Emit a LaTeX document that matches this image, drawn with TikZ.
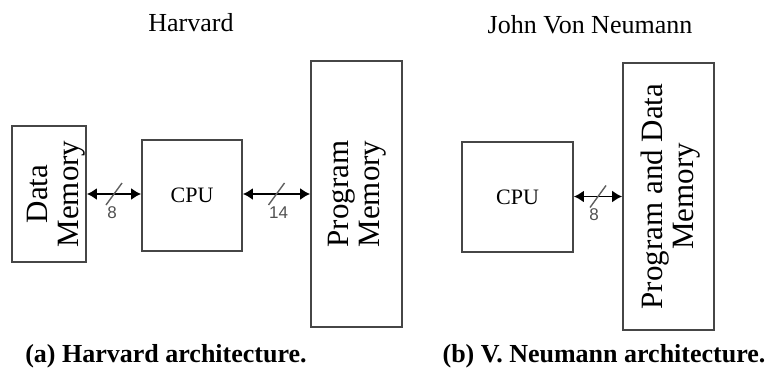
\documentclass[tikz,border=0pt]{standalone}
\usepackage{fontspec}
\setmainfont{Liberation Serif}
\newfontfamily\digitfont{Liberation Sans}
\usepackage{xcolor}
\usepackage{tikz}
\usetikzlibrary{arrows.meta,calc}
\definecolor{boxline}{RGB}{70,70,70}
\definecolor{markline}{RGB}{95,95,95}
\definecolor{digitcolor}{RGB}{80,80,80}

\begin{document}
\begin{tikzpicture}[x=0.5pt,y=-0.5pt,>={Latex[length=5pt,width=6pt]}]
\tikzset{unit/.style={draw=boxline,line width=0.9pt,inner sep=0pt},
  memtext/.style={rotate=90,align=center,inner sep=0pt,font=\fontsize{15.5}{15.5}\selectfont},
  cputext/.style={font=\fontsize{11}{13}\selectfont},
  bus/.style={<->,line width=0.9pt,black},
  busmark/.style={draw=markline,line width=0.7pt},
  width/.style={font=\digitfont\fontsize{8.5}{10}\selectfont,text=digitcolor,inner sep=0pt},
  heading/.style={font=\fontsize{13}{15}\selectfont},
  caption/.style={font=\bfseries\fontsize{13}{15}\selectfont}}
\useasboundingbox (0,0) rectangle (769,374);

\node[heading] (tha) at (191,23) {Harvard};
\node[heading] (thb) at (590,25) {John Von Neumann};

\node[unit,minimum width=37pt,minimum height=68pt,
      label={[memtext,yshift=-3.5pt]center:Data\\Memory}] (dmem) at (49,194) {};
\node[unit,cputext,minimum width=50pt,minimum height=55.5pt] (cpua) at (192,195.5) {CPU};
\node[unit,minimum width=45.5pt,minimum height=133pt,
      label={[memtext,yshift=-0.5pt]center:Program\\Memory}] (pmem) at (356.5,194) {};

\node[unit,cputext,minimum width=55.5pt,minimum height=55pt] (cpub) at (517.5,197) {CPU};
\node[unit,minimum width=45.5pt,minimum height=133.5pt,
      label={[memtext,yshift=-1pt]center:Program and Data\\Memory}] (pdmem) at (668.5,196.5) {};

\draw[bus] (dmem.east) -- coordinate[midway] (ma) (dmem.east -| cpua.west);
\draw[bus] (cpua.east |- pmem.west) -- coordinate[midway] (mb) (pmem.west);
\draw[bus] (cpub.east |- pdmem.west) -- coordinate[midway] (mc) (pdmem.west);

\draw[busmark] ([shift={(-8,11)}]ma) -- ([shift={(8,-11)}]ma);
\draw[busmark] ([shift={(-8,11)}]mb) -- ([shift={(8,-11)}]mb);
\draw[busmark] ([shift={(-8,11)}]mc) -- ([shift={(8,-11)}]mc);
\node[width] (wa) at ([shift={(-2,19)}]ma) {8};
\node[width] (wb) at ([shift={(2,19)}]mb) {14};
\node[width] (wc) at ([shift={(-4,18)}]mc) {8};

\node[caption] (capa) at (166,356) {(a) Harvard architecture.};
\node[caption] (capb) at (604,356) {(b) V. Neumann architecture.};
\end{tikzpicture}
\end{document}
